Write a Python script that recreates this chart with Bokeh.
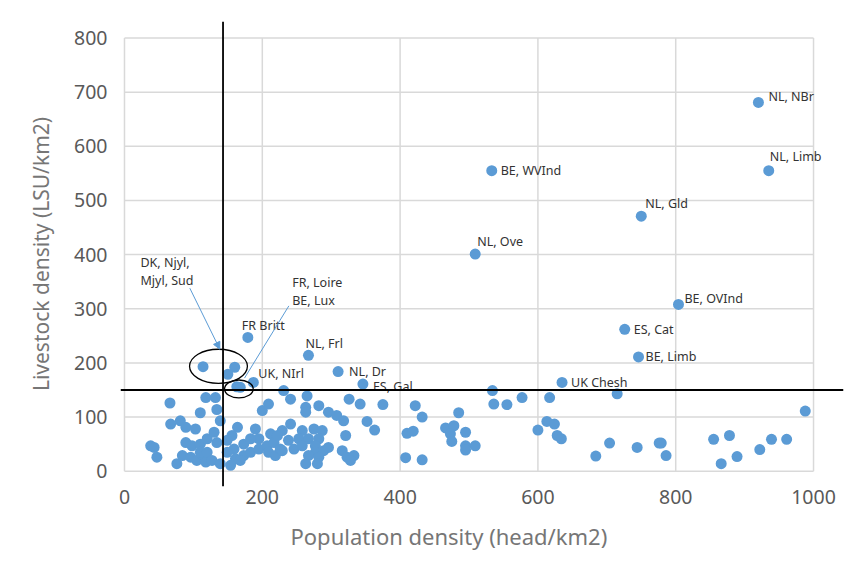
from bokeh.plotting import figure
from bokeh.models import Range1d, FixedTicker, Span, Arrow, NormalHead, Title
from bokeh.core.properties import value
from bokeh.embed import file_html
from bokeh.resources import INLINE

# ---------------- data ----------------
# labelled regions
label_names = ["NL, NBr", "NL, Limb", "BE, WVInd", "NL, Gld", "NL, Ove", "BE, OVInd",
               "ES, Cat", "BE, Limb", "UK Chesh", "FR Britt", "NL, Frl", "NL, Dr",
               "ES, Gal", "UK, NIrl"]
label_pop = [920, 935, 533, 750, 509, 804, 726, 746, 635, 179, 267, 310, 346, 187]
label_lsu = [681, 555, 555, 471, 401, 308, 262, 211, 164, 247, 214, 184, 161, 164]

# circled groups
dk_pop = [114, 160, 150]
dk_lsu = [193, 192, 179]
frbe_pop = [163, 168]
frbe_lsu = [156, 155]

# other regions
other_pop = [66, 110, 118, 67, 81, 89, 103, 89, 98, 110, 43, 47, 76, 84, 96, 105, 115, 110, 118, 38,
             132, 134, 139, 200, 209, 164, 156, 190, 195, 212, 120, 130, 134, 149, 159, 173, 183, 173,
             161, 149, 120, 127, 139, 154, 168, 183, 195, 207, 217, 209, 219, 226,
             231, 241, 265, 263, 263, 282, 296, 308, 318, 326, 241, 229, 222, 258, 275, 287, 238, 253,
             267, 282, 321, 229, 246, 258, 277, 277, 289, 267, 263, 282, 280, 296, 316, 323, 333, 328,
             342, 375, 422, 432, 485, 352, 363, 410, 419, 466, 478, 473, 495, 475, 495, 509, 495, 408, 432,
             534, 536, 555, 577, 617, 715, 600, 613, 624, 628, 634, 684, 704, 744, 776,
             988, 779, 786, 855, 878, 866, 889, 922, 939, 961]
other_lsu = [126, 108, 136, 87, 93, 81, 78, 53, 47, 50, 44, 26, 14, 29, 26, 20, 26, 35, 17, 47,
             136, 114, 93, 112, 124, 81, 66, 78, 60, 69, 60, 72, 53, 57, 41, 50, 60, 29,
             23, 35, 35, 20, 14, 11, 20, 35, 41, 47, 53, 35, 29, 41,
             149, 133, 139, 118, 109, 121, 109, 103, 93, 133, 87, 75, 66, 75, 78, 75, 57, 60,
             60, 60, 66, 38, 41, 47, 47, 35, 38, 29, 14, 26, 14, 44, 38, 26, 29, 20,
             124, 123, 121, 100, 108, 92, 76, 70, 74, 80, 84, 69, 72, 55, 47, 47, 39, 25, 21,
             149, 124, 123, 136, 136, 143, 76, 92, 87, 66, 60, 28, 52, 44, 52,
             111, 52, 29, 59, 66, 14, 27, 40, 59, 59]

# threshold lines
pop_threshold = 143
lsu_threshold = 150

# axis ticks
x_ticks = [0, 200, 400, 600, 800, 1000]
y_ticks = [0, 100, 200, 300, 400, 500, 600, 700, 800]

# annotation texts
dk_text = ["DK, Njyl,", "Mjyl, Sud"]
frbe_text = ["FR, Loire", "BE, Lux"]

# ---------------- styling / layout ----------------
label_dx = [10, 1, 9, 4, 2, 6, 9, 7, 9, -6, -3, 11, 10, 5]
label_dy = [-6, -14, 0, -13, -13, -6, 0, 0, 0, -12, -12, 0, 2, -9]

BLUE = "#5b9bd5"
GRID = "#d9d9d9"
FONT = "Noto Sans"

p = figure(width=847, height=569, output_backend="svg", toolbar_location=None,
           x_range=Range1d(-5.8, 1043.5), y_range=Range1d(-28.2, 830.5),
           min_border_left=120, min_border_right=4, min_border_top=21, min_border_bottom=83)
p.outline_line_color = None
p.xgrid.visible = False
p.ygrid.visible = False
p.background_fill_color = "white"
p.border_fill_color = "white"

# grid drawn within the data extent
p.segment(x0=x_ticks, y0=[y_ticks[0]] * len(x_ticks), x1=x_ticks, y1=[y_ticks[-1]] * len(x_ticks),
          line_color=GRID, line_width=1.5)
p.segment(x0=[x_ticks[0]] * len(y_ticks), y0=y_ticks, x1=[x_ticks[-1]] * len(y_ticks), y1=y_ticks,
          line_color=GRID, line_width=1.5)

for ax in (p.xaxis[0], p.yaxis[0]):
    ax.axis_line_color = None
    ax.major_tick_line_color = None
    ax.minor_tick_line_color = None
    ax.major_tick_out = 0
    ax.major_tick_in = 0
    ax.major_label_text_font = FONT
    ax.major_label_text_font_size = "19.5px"
    ax.major_label_text_color = "#595959"
    ax.axis_label_text_font = FONT
    ax.axis_label_text_font_size = "21px"
    ax.axis_label_text_color = "#767676"
    ax.axis_label_text_font_style = "normal"

p.xaxis.ticker = FixedTicker(ticks=x_ticks)
p.yaxis.ticker = FixedTicker(ticks=y_ticks)
p.xaxis.major_label_standoff = 3
p.yaxis.major_label_standoff = 13
p.yaxis.axis_label = "Livestock density (LSU/km2)"
p.yaxis.axis_label_standoff = 16

xt = Title(text="Population density (head/km2)", align="left", offset=170,
           text_font=FONT, text_font_size="22px", text_color="#767676",
           text_font_style="normal", standoff=24)
p.add_layout(xt, "below")

# threshold lines
p.add_layout(Span(location=pop_threshold, dimension="height", line_color="black", line_width=1.8))
p.add_layout(Span(location=lsu_threshold, dimension="width", line_color="black", line_width=1.8))

# points
all_pop = label_pop + dk_pop + frbe_pop + other_pop
all_lsu = label_lsu + dk_lsu + frbe_lsu + other_lsu
p.scatter(all_pop, all_lsu, size=11, fill_color=BLUE, line_color=None)

# point labels
p.text(x=label_pop, y=label_lsu, text=label_names, x_offset=label_dx, y_offset=label_dy,
       text_font=value(FONT), text_font_size="12.5px", text_color="#333333",
       text_baseline="middle", text_align="left")

# circled groups
p.ellipse(x=[136.4], y=[193.8], width=[84], height=[63],
          fill_color=None, line_color="black", line_width=1.3)
p.ellipse(x=[166], y=[152], width=[41.6], height=[33],
          fill_color=None, line_color="black", line_width=1.3)

# annotation texts
p.text(x=[23.2, 23.2], y=[385, 352], text=dk_text, text_font=value(FONT),
       text_font_size="12.5px", text_color="#333333", text_baseline="middle", text_align="left")
p.text(x=[243.4, 243.4], y=[348.3, 315.8], text=frbe_text, text_font=value(FONT),
       text_font_size="12.5px", text_color="#333333", text_baseline="middle", text_align="left")

# connector lines
p.add_layout(Arrow(end=NormalHead(size=7, fill_color=BLUE, line_color=BLUE),
                   x_start=94.8, y_start=338, x_end=138.3, y_end=225.5,
                   line_color=BLUE, line_width=1))
p.segment(x0=[238.5], y0=[305.3], x1=[174.2], y1=[172], line_color=BLUE, line_width=1)

open("out.html", "w").write(file_html(p, INLINE))
